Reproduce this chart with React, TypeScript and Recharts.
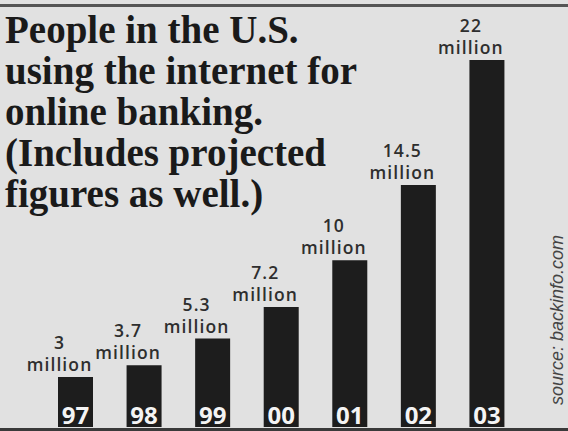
import { Bar, BarChart, LabelList, XAxis, YAxis } from "recharts"

const years = ["97", "98", "99", "00", "01", "02", "03"]
const users = [3, 3.7, 5.3, 7.2, 10, 14.5, 22]
const titleLines = [
  "People in the U.S.",
  "using the internet for",
  "online banking.",
  "(Includes projected",
  "figures as well.)",
]

const data = years.map((year, i) => ({ year, users: users[i] }))

// the value labels sit a little left of the bar centre in the original
const ValueLabel = (props: any) => {
  const { x, y, width, value } = props
  const cx = x + width / 2 - 16
  return (
    <text
      x={cx}
      y={y - 28}
      textAnchor="middle"
      fill="#2e2e2e"
      fontFamily="'Open Sans', sans-serif"
      fontWeight={600}
      fontSize={17.5}
      letterSpacing={1.1}
    >
      <tspan x={cx}>{value}</tspan>
      <tspan x={cx} dy={22}>million</tspan>
    </text>
  )
}

const YearLabel = (props: any) => {
  const { x, y, width, height, value } = props
  return (
    <text
      x={x + width / 2}
      y={y + height - 3}
      textAnchor="middle"
      fill="#f4f4f4"
      fontFamily="'Open Sans', sans-serif"
      fontWeight={700}
      fontSize={24}
    >
      {value}
    </text>
  )
}

export default function App() {
  return (
    <div style={{ position: "relative", width: 568, height: 431, background: "#e1e1e1", overflow: "hidden" }}>
      <style>{`body { margin: 0; }`}</style>
      <BarChart width={568} height={431} data={data} margin={{ top: 60, right: 47, bottom: 4, left: 41 }}>
        <XAxis dataKey="year" hide />
        <YAxis domain={[0, 22]} hide />
        <Bar dataKey="users" fill="#1d1d1d" barSize={35} isAnimationActive={false}>
          <LabelList dataKey="users" content={ValueLabel} />
          <LabelList dataKey="year" content={YearLabel} />
        </Bar>
      </BarChart>
      <svg width={568} height={431} style={{ position: "absolute", left: 0, top: 0, pointerEvents: "none" }}>
        <rect x={0} y={4} width={568} height={3} fill="#555" />
        <rect x={0} y={428} width={568} height={3} fill="#3a3a3a" />
        {titleLines.map((line, i) => (
          <text
            key={line}
            x={5}
            y={43 + i * 41}
            fill="#1a1a1a"
            fontFamily="'Liberation Serif', serif"
            fontWeight={700}
            fontSize={39}
          >
            {line}
          </text>
        ))}
        <text
          x={0}
          y={0}
          transform="translate(563 320) rotate(-90)"
          textAnchor="middle"
          fill="#444"
          fontFamily="'Liberation Sans', sans-serif"
          fontStyle="italic"
          fontSize={18}
        >
          source: backinfo.com
        </text>
      </svg>
    </div>
  )
}
